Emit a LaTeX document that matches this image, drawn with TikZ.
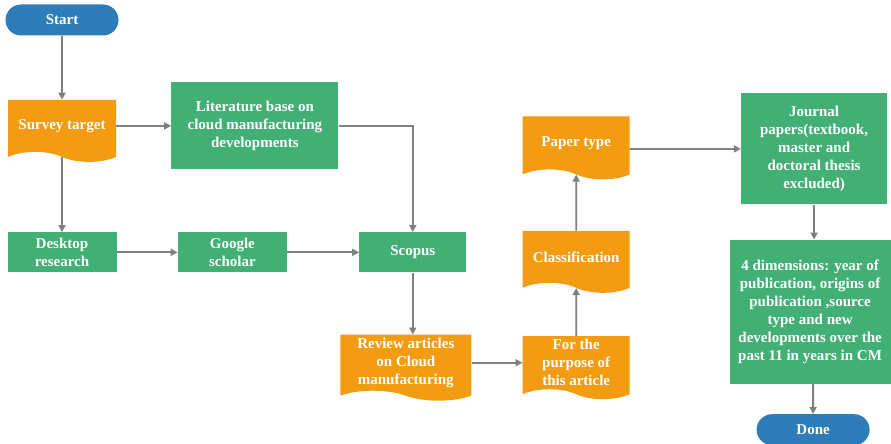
\documentclass[tikz,border=0pt]{standalone}
\usepackage{fontspec}
\setmainfont{Liberation Serif}
\usetikzlibrary{arrows.meta, shapes.symbols, shapes.misc, positioning}

\definecolor{flowgreen}{RGB}{66,176,116}
\definecolor{floworange}{RGB}{243,156,18}
\definecolor{flowblue}{RGB}{46,125,185}
\definecolor{flowgray}{RGB}{128,128,128}

\begin{document}
\begin{tikzpicture}[
    x=1pt, y=1pt,
    % Styles
    terminal/.style={rounded rectangle, fill=flowblue, text=white, minimum width=113pt, minimum height=31pt, inner sep=0pt, font=\bfseries\fontsize{15}{18}\selectfont},
    process/.style={rectangle, fill=flowgreen, text=white, inner sep=0pt, align=center, font=\bfseries\fontsize{15}{18}\selectfont},
    doc/.style={tape, tape bend top=none, tape bend bottom=out and in, tape bend height=10pt, fill=floworange, text=white, inner sep=0pt, align=center, font=\bfseries\fontsize{15}{18}\selectfont},
    arrow/.style={-{Triangle[length=7pt, width=7pt]}, line width=1.8pt, draw=flowgray}
]
\useasboundingbox (0,0) rectangle (891,-444);

% --- Left column ---
\node[terminal] (start) at (62,-20) {Start};
\node[doc, minimum width=108pt, minimum height=62pt, below=64pt of start] (survey) {Survey target};
\draw[arrow] (start) -- (survey);

\node[process, minimum width=167pt, minimum height=87pt, right=55pt of survey] (literature) {Literature base on\\cloud manufacturing\\developments};
\draw[arrow] (survey.east) -- (literature.west |- survey.east);

\node[process, minimum width=109pt, minimum height=40pt, below=80pt of survey] (desktop) {Desktop\\research};
\draw[arrow] (survey) -- (desktop);

% --- Search sources ---
\node[process, minimum width=109pt, minimum height=40pt, right=61pt of desktop] (google) {Google\\scholar};
\node[process, minimum width=107pt, minimum height=40pt, right=72pt of google] (scopus) {Scopus};
\draw[arrow] (desktop) -- (google);
\draw[arrow] (google) -- (scopus);
\draw[arrow] (literature.east) -| (scopus.north);

% --- Orange chain ---
\node[doc, minimum width=131pt, minimum height=66pt, below=62pt of scopus, xshift=-7pt] (review) {Review articles\\on Cloud\\manufacturing};
\draw[arrow] (scopus) -- (scopus |- review.north);

\node[doc, minimum width=107pt, minimum height=63pt, right=51pt of review] (purpose) {For the\\purpose of\\this article};
\draw[arrow] (review.east) -- (purpose.west |- review.east);

\node[doc, minimum width=107pt, minimum height=62pt, above=53pt of purpose] (classification) {Classification};
\draw[arrow] (purpose) -- (classification);

\node[doc, minimum width=107pt, minimum height=63pt, above=61pt of classification] (paper) {Paper type};
\draw[arrow] (classification) -- (paper);

% --- Right column ---
\node[process, minimum width=146pt, minimum height=111pt, right=111pt of paper, yshift=-6pt] (journal) {Journal\\papers(textbook,\\master and\\doctoral thesis\\excluded)};
\draw[arrow] (journal.west -| paper.east) -- (journal.west);

\node[process, minimum width=161pt, minimum height=144pt, below=35pt of journal, xshift=-4pt] (dims) {4 dimensions: year of\\publication, origins of\\publication ,source\\type and new\\developments over the\\past 11 in years in CM};
\draw[arrow] (journal) -- (journal |- dims.north);

\node[terminal, below=30pt of dims, xshift=3pt] (done) {Done};
\draw[arrow] (dims.south -| done) -- (done);

\end{tikzpicture}
\end{document}
